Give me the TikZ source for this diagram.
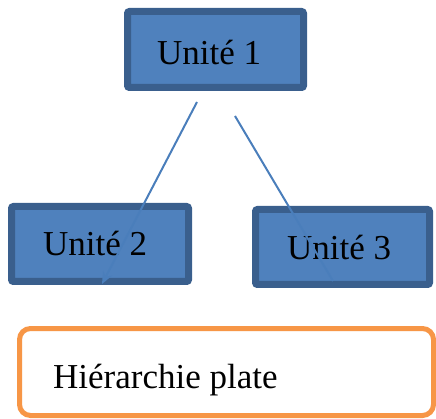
\documentclass[tikz,border=0pt]{standalone}
\usepackage{fontspec}
\setmainfont{Liberation Serif}
\usetikzlibrary{arrows.meta}
\definecolor{unitfill}{HTML}{4F81BD}
\definecolor{unitedge}{HTML}{3A5F8D}
\definecolor{linkblue}{HTML}{4A7EBB}
\definecolor{noteorange}{HTML}{F79646}
\begin{document}
\begin{tikzpicture}[x=1pt,y=-1pt,
  unitbox/.style={draw=unitedge, fill=unitfill, line width=7pt,
    rounded corners=2pt, inner sep=0pt},
  unitlabel/.style={anchor=base west, inner sep=0pt,
    font=\fontsize{35}{40}\selectfont, text=black},
  link/.style={draw=linkblue, line width=2pt},
  notebox/.style={draw=noteorange, line width=5pt, rounded corners=11pt,
    fill=white, inner sep=0pt}]
\useasboundingbox (0,0) rectangle (436,419);

% units
\node[unitbox, minimum width=176pt, minimum height=76pt] (u1) at (215.5,49.5) {};
\node[unitbox, minimum width=177pt, minimum height=75pt] (u2) at (100,244) {};
\node[unitbox, minimum width=174pt, minimum height=75pt] (u3) at (342.5,247) {};

\node[unitlabel] (t1) at (157,65) {Unité 1};
\node[unitlabel] (t2) at (43,256) {Unité 2};
\node[unitlabel] (t3) at (287,260) {Unité 3};

% links from the top unit
\coordinate (s2) at (197,102);
\coordinate (e2) at (102,284);
\coordinate (s3) at (235,116);
\coordinate (e3) at (333,281);
\draw[link, -{Stealth[length=12pt,width=10pt]}] (s2) -- (e2);
\draw[link] (s3) -- (e3);

% caption box
\node[notebox, minimum width=414pt, minimum height=87pt] (note) at (226.5,372) {};
\node[unitlabel] (cap) at (53,388) {Hiérarchie plate};
\end{tikzpicture}
\end{document}
